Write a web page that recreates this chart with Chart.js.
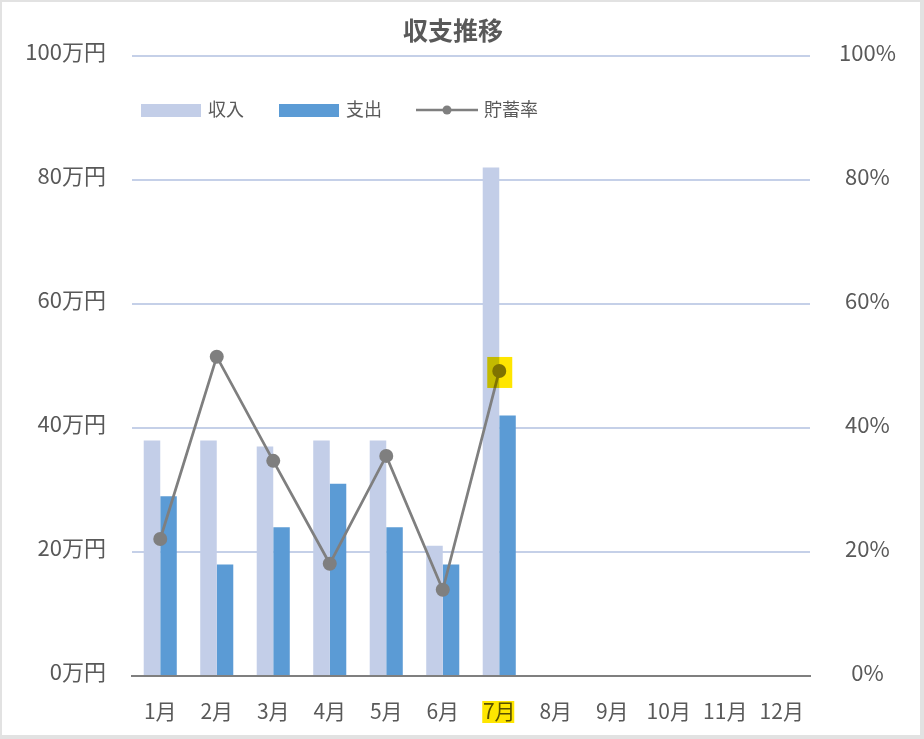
<!DOCTYPE html>
<html><head><meta charset="utf-8">
<script src="https://cdn.jsdelivr.net/npm/chart.js@4"></script>
<style>
html,body{margin:0;padding:0;background:#e2e2e2;}
#wrap{position:absolute;left:2px;top:2px;width:918px;height:733px;background:#fff;}
canvas{display:block;}
</style></head>
<body><div id="wrap"><canvas id="c" width="918" height="733"></canvas></div>
<script>
const months = ['1月','2月','3月','4月','5月','6月','7月','8月','9月','10月','11月','12月'];
const income = [38, 38, 37, 38, 38, 21, 82, null, null, null, null, null];
const expense = [29, 18, 24, 31, 24, 18, 42, null, null, null, null, null];
const savingsRate = [22.1, 51.5, 34.7, 18.1, 35.5, 13.9, 49.2, null, null, null, null, null];
const leftTicks = [0, 20, 40, 60, 80, 100];
const highlightIndex = 6;
const titleText = '収支推移';

const FONT = '"Noto Sans CJK JP", "Noto Sans", sans-serif';
const TXT = '#595959';

const overlay = {
  id: 'overlay',
  afterDraw(chart) {
    const ctx = chart.ctx;
    const xs = chart.scales.x, y1 = chart.scales.y1;
    ctx.save();
    // title
    ctx.fillStyle = TXT;
    ctx.font = 'bold 25px ' + FONT;
    ctx.textAlign = 'center';
    ctx.textBaseline = 'middle';
    ctx.fillText(titleText, 451, 28);
    // legend
    const ds = chart.data.datasets;
    ctx.font = '18px ' + FONT;
    ctx.textAlign = 'left';
    ctx.fillStyle = ds[1].backgroundColor;
    ctx.fillRect(139, 102, 60, 13);
    ctx.fillStyle = TXT;
    ctx.fillText(ds[1].label, 206, 107);
    ctx.fillStyle = ds[2].backgroundColor;
    ctx.fillRect(277, 102, 60, 13);
    ctx.fillStyle = TXT;
    ctx.fillText(ds[2].label, 344, 107);
    ctx.strokeStyle = ds[0].borderColor;
    ctx.lineWidth = 2.5;
    ctx.beginPath(); ctx.moveTo(414, 108); ctx.lineTo(476, 108); ctx.stroke();
    ctx.fillStyle = ds[0].pointBackgroundColor;
    ctx.beginPath(); ctx.arc(445, 108, 4.5, 0, Math.PI*2); ctx.fill();
    ctx.fillStyle = TXT;
    ctx.fillText(ds[0].label, 482, 107);
    // highlights (highlighter, multiply)
    ctx.globalCompositeOperation = 'multiply';
    ctx.fillStyle = '#ffe600';
    const px = xs.getPixelForValue(highlightIndex);
    const py = y1.getPixelForValue(savingsRate[highlightIndex]);
    ctx.fillRect(px - 12, py - 14, 25, 31);
    ctx.fillRect(px - 17, 699, 32, 22);
    ctx.restore();
  }
};

new Chart(document.getElementById('c'), {
  data: {
    labels: months,
    datasets: [
      {
        type: 'line', label: '貯蓄率', data: savingsRate, yAxisID: 'y1', order: 0,
        borderColor: '#7f7f7f', borderWidth: 2.75, pointRadius: 7, pointHoverRadius: 7,
        pointBackgroundColor: '#7f7f7f', pointBorderWidth: 0, tension: 0, spanGaps: false
      },
      {
        type: 'bar', label: '収入', data: income, yAxisID: 'y', order: 1,
        backgroundColor: '#c3cee8', categoryPercentage: 0.585, barPercentage: 1.0
      },
      {
        type: 'bar', label: '支出', data: expense, yAxisID: 'y', order: 1,
        backgroundColor: '#5b9bd5', categoryPercentage: 0.585, barPercentage: 1.0
      }
    ]
  },
  options: {
    responsive: false, animation: false,
    layout: { padding: { top: 54, left: 0, right: 0, bottom: 0 } },
    plugins: { legend: { display: false }, title: { display: false }, tooltip: { enabled: false } },
    scales: {
      x: {
        grid: { display: false, drawTicks: false },
        border: { display: true, color: '#7f7f7f', width: 2 },
        ticks: { color: TXT, font: { family: FONT, size: 21 }, padding: 22, maxRotation: 0, autoSkip: false },
        afterFit(s) { s.height = 59; }
      },
      y: {
        position: 'left', min: 0, max: 100,
        afterBuildTicks(s) { s.ticks = leftTicks.map(v => ({ value: v })); },
        grid: { color: '#c5d0e8', lineWidth: 2, drawTicks: false },
        border: { display: false },
        ticks: { color: TXT, font: { family: FONT, size: 22 }, padding: 26, labelOffset: -4, callback: v => v + '万円' },
        afterFit(s) { s.width = 130; }
      },
      y1: {
        position: 'right', min: 0, max: 100,
        afterBuildTicks(s) { s.ticks = leftTicks.map(v => ({ value: v })); },
        grid: { display: false, drawOnChartArea: false, drawTicks: false },
        border: { display: false },
        ticks: { color: TXT, font: { family: FONT, size: 22 }, padding: 29, labelOffset: -3, crossAlign: 'center', callback: v => v + '%' },
        afterFit(s) { s.width = 110; }
      }
    }
  },
  plugins: [overlay]
});
</script>
</body></html>
